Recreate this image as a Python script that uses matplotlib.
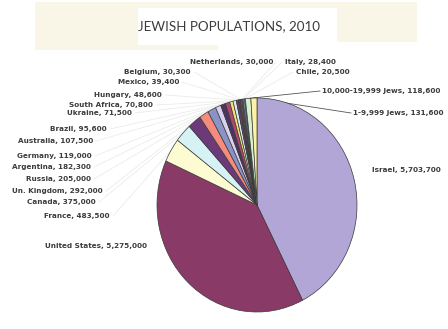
import matplotlib.pyplot as plt
import numpy as np
from matplotlib.patches import Rectangle

# Data (clockwise from 12 o'clock)
labels = ["Israel", "United States", "France", "Canada", "Un. Kingdom", "Russia",
          "Argentina", "Germany", "Australia", "Brazil", "Ukraine", "South Africa",
          "Hungary", "Mexico", "Belgium", "Netherlands", "Italy", "Chile",
          "10,000-19,999 Jews", "1-9,999 Jews"]
values = [5703700, 5275000, 483500, 375000, 292000, 205000,
          182300, 119000, 107500, 95600, 71500, 70800,
          48600, 39400, 30300, 30000, 28400, 20500,
          118600, 131600]
colors = ["#b1a6d6", "#8a3a66", "#fdfbd2", "#d6f2f4", "#6c3a78", "#f48b7c",
          "#8a92c8", "#d8d2ee", "#4c3462", "#b0486c", "#f2e27a", "#d4ecec",
          "#6a4068", "#6c3c3c", "#5a7474", "#50589a", "#a8d4e2", "#e2f2f0",
          "#d8f0d0", "#faf2a8"]

# label text anchors in pixels (x, y from top, alignment)
label_pos = [(372, 170, "left"), (147, 246, "right"), (110, 216, "right"),
             (96, 202, "right"), (103, 191, "right"), (91, 179, "right"),
             (91, 167, "right"), (92, 156, "right"), (93, 141, "right"),
             (107, 129, "right"), (132, 113, "right"), (153, 105, "right"),
             (162, 95, "right"), (179, 82, "right"), (191, 72, "right"),
             (273, 62, "right"), (285, 62, "left"), (296, 72, "left"),
             (322, 91, "left"), (353, 113, "left")]

W, H = 448, 329
fig = plt.figure(figsize=(W / 100, H / 100), dpi=100)
fig.patch.set_facecolor("white")

# overlay axes in pixel coordinates (y from top)
ax = fig.add_axes([0, 0, 1, 1])
ax.set_xlim(0, W)
ax.set_ylim(H, 0)
ax.axis("off")

# beige scanned backdrop behind the title
beige = "#f9f6e8"
ax.add_patch(Rectangle((35, 2), 382, 40, color=beige, lw=0, zorder=0))
ax.add_patch(Rectangle((35, 2), 183, 48, color=beige, lw=0, zorder=0))
ax.add_patch(Rectangle((138, 8), 199, 37, color="white", lw=0, zorder=1))
ax.text(229, 26, "JEWISH POPULATIONS, 2010", ha="center", va="center",
        fontsize=9.6, family="Lato", color="#3c3c3c", zorder=2)

# pie (slightly taller than wide, like the scan)
cx, cy, rx, ry = 257, 205, 100, 107
pax = fig.add_axes([(cx - rx) / W, (H - cy - ry) / H, 2 * rx / W, 2 * ry / H])
wedges, _ = pax.pie(values, colors=colors, startangle=90, counterclock=False,
                    wedgeprops=dict(edgecolor="#3a3a3a", linewidth=0.5))
pax.set_xlim(-1, 1)
pax.set_ylim(-1, 1)
pax.set_aspect("auto")
pax.axis("off")
pax.patch.set_alpha(0)

for w, lab, val, (lx, ly, ha) in zip(wedges, labels, values, label_pos):
    mid = np.deg2rad((w.theta1 + w.theta2) / 2)
    px = cx + rx * np.cos(mid)
    py = cy - ry * np.sin(mid)
    text = f"{lab}, {val:,}"
    ax.text(lx, ly, text, ha=ha, va="center", fontsize=5.2, fontweight="bold",
            family="DejaVu Sans", color="#3c3c3c")
    if lab in ("10,000-19,999 Jews", "1-9,999 Jews"):
        ax.plot([lx - 2, px], [ly, py], color="#555555", lw=0.6)
    elif lab not in ("Israel", "United States"):
        ex = lx + 3 if ha == "right" else lx - 3
        ax.plot([ex, px], [ly, py], color="#e8e8e8", lw=0.5, zorder=0.5)

fig.savefig("out.png", dpi=100)
